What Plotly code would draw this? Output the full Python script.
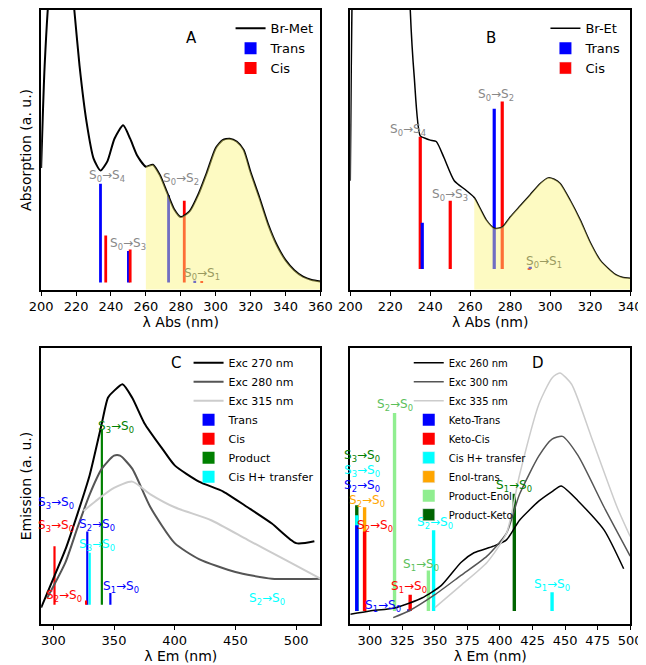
import plotly.graph_objects as go

# ---------- Panel A data ----------
a_x = [200, 202, 205, 208, 212, 216, 219, 222, 226, 230, 234, 238, 242, 247, 251, 255, 260, 264, 268, 272, 276, 280, 285, 290, 295, 300, 304, 308, 312, 316, 320, 325, 330, 335, 340, 345, 350, 355, 360]
a_y = [43.5, 80, 110, 125, 125, 118, 100, 80, 60, 47, 42.6, 46, 54, 58.8, 54, 48, 44, 44.7, 41, 35, 29, 26, 28, 34, 42, 50.6, 53.5, 54, 53, 50, 42, 33, 23.5, 16, 10.6, 7, 4.7, 3.5, 3]
a_trans_x = [234, 250, 273, 288]
a_trans_top = [37.9, 13.9, 33.8, 3.2]
a_cis_x = [237, 251, 282, 292]
a_cis_top = [19.4, 14.4, 31.8, 3.0]
a_base = 2.6

# ---------- Panel B data ----------
b_x = [200, 200.5, 201, 201.5, 229, 230, 232, 235, 238, 240, 243, 247, 252, 258, 262, 265, 268, 272, 276, 280, 285, 290, 295, 299, 302, 305, 310, 315, 320, 325, 330, 333, 336, 340]
b_y = [39, 80, 110, 130, 130, 100, 76, 55, 54, 53.5, 53, 47, 39, 35.5, 33, 29, 25, 22, 22.4, 26, 30, 34, 38, 40, 39.5, 38, 32, 25, 17, 10.6, 7, 5.3, 4.5, 4.1]
b_trans_x = [236, 272, 290]
b_trans_top = [24, 64.7, 8.2]
b_cis_x = [235, 250, 276, 289.5]
b_cis_top = [54.7, 31.8, 67.3, 7.8]
b_base = 7.4

# ---------- Panel C data ----------
c270_x = [290, 300, 310, 320, 330, 340, 345, 350, 357, 365, 375, 390, 400, 420, 440, 460, 480, 500, 515]
c270_y = [5.9, 16.4, 27, 40, 54, 72.8, 82, 84.5, 86.9, 82, 72.8, 63.4, 57.5, 51.6, 48, 42.3, 36.4, 29.3, 30]
c280_x = [295, 310, 320, 330, 340, 350, 355, 365, 380, 400, 420, 450, 480, 520]
c280_y = [9.4, 22.3, 35, 47, 56.3, 61, 61, 56.3, 42.3, 29.3, 23.5, 18.8, 16.4, 16.4]
c315_x = [325, 335, 350, 365, 380, 400, 430, 460, 490, 510, 520]
c315_y = [41, 44.6, 49.3, 51.6, 47, 42.3, 37.6, 30.5, 23.5, 18.8, 16.4]
c_trans_x = [328, 347]
c_trans_top = [33.5, 11.2]
c_cis_x = [301, 327]
c_cis_top = [28.2, 8.5]
c_prod_x = [340]
c_prod_top = [70.4]
c_cish_x = [330]
c_cish_top = [25.8]
c_base = 7.0

# ---------- Panel D data ----------
d260_x = [285, 300, 320, 340, 355, 370, 380, 395, 405, 415, 430, 440, 447, 460, 480, 495]
d260_y = [3.5, 4.7, 5.9, 9.4, 14, 22.3, 25.8, 28.2, 30.5, 37.6, 44.6, 48, 50, 44.6, 34, 20]
d300_x = [318, 330, 350, 370, 390, 405, 415, 430, 440, 448, 460, 480, 500]
d300_y = [2.3, 4.7, 10.6, 17.6, 24.6, 32.9, 47, 61, 67, 68, 61, 42.3, 24.6]
d335_x = [350, 370, 390, 405, 415, 430, 440, 446, 455, 470, 490, 500]
d335_y = [5.9, 14, 22.3, 32.9, 54, 79.8, 89.2, 91, 86.9, 68, 42.3, 31.7]
d_pketo_x = [290, 411]
d_pketo_top = [43, 47.2]
d_cish_x = [290, 349, 440]
d_cish_top = [39.4, 34, 11.5]
d_ktrans_x = [290, 330]
d_ktrans_top = [35.8, 5.3]
d_enolt_x = [296]
d_enolt_top = [42.3]
d_kcis_x = [296, 331]
d_kcis_top = [33.5, 10.6]
d_penol_x = [319, 345]
d_penol_top = [76.5, 19.4]
d_base = 4.7

FONT = "DejaVu Sans"
fig = go.Figure()

def bars(x, top, base, color, name, xa, ya, legend, width=1.6, show=True):
    fig.add_trace(go.Bar(x=x, y=[t - base for t in top], base=base, width=width,
                         marker=dict(color=color, line=dict(width=0)), name=name,
                         xaxis=xa, yaxis=ya, legend=legend, showlegend=show))

def line(x, y, color, name, xa, ya, legend, w=2, show=True):
    fig.add_trace(go.Scatter(x=x, y=y, mode="lines", line=dict(color=color, width=w, shape="spline", smoothing=0.6),
                             name=name, xaxis=xa, yaxis=ya, legend=legend, showlegend=show))

# Panel A
line(a_x, a_y, "black", "Br-Met", "x", "y", "legend")
bars(a_trans_x, a_trans_top, a_base, "#0000ff", "Trans", "x", "y", "legend")
bars(a_cis_x, a_cis_top, a_base, "#ff0000", "Cis", "x", "y", "legend")
fa = [(x, y) for x, y in zip(a_x, a_y) if x >= 260]
fig.add_trace(go.Scatter(x=[p[0] for p in fa], y=[p[1] for p in fa], mode="lines", line=dict(width=0, shape="spline", smoothing=0.6),
                         fill="tozeroy", fillcolor="rgba(250,245,120,0.45)", showlegend=False, xaxis="x", yaxis="y"))

# Panel B
line(b_x, b_y, "black", "Br-Et", "x2", "y2", "legend2", w=1.5)
bars(b_cis_x, b_cis_top, b_base, "#ff0000", "Cis", "x2", "y2", "legend2", show=False)
bars(b_trans_x, b_trans_top, b_base, "#0000ff", "Trans", "x2", "y2", "legend2")
fig.add_trace(go.Bar(x=[None], y=[None], marker=dict(color="#ff0000"), name="Cis", xaxis="x2", yaxis="y2", legend="legend2"))
fb = [(x, y) for x, y in zip(b_x, b_y) if x >= 260]
fig.add_trace(go.Scatter(x=[p[0] for p in fb], y=[p[1] for p in fb], mode="lines", line=dict(width=0, shape="spline", smoothing=0.6),
                         fill="tozeroy", fillcolor="rgba(250,245,120,0.45)", showlegend=False, xaxis="x2", yaxis="y2"))

# Panel C
line(c270_x, c270_y, "black", "Exc 270 nm", "x3", "y3", "legend3")
line(c280_x, c280_y, "#555555", "Exc 280 nm", "x3", "y3", "legend3")
line(c315_x, c315_y, "#cccccc", "Exc 315 nm", "x3", "y3", "legend3")
bars(c_trans_x, c_trans_top, c_base, "#0000ff", "Trans", "x3", "y3", "legend3", width=1.8)
bars(c_cis_x, c_cis_top, c_base, "#ff0000", "Cis", "x3", "y3", "legend3", width=1.8)
bars(c_prod_x, c_prod_top, c_base, "#008000", "Product", "x3", "y3", "legend3", width=1.8)
bars(c_cish_x, c_cish_top, c_base, "#00ffff", "Cis H+ transfer", "x3", "y3", "legend3", width=1.8)

# Panel D
line(d260_x, d260_y, "black", "Exc 260 nm", "x4", "y4", "legend4", w=1.5)
line(d300_x, d300_y, "#555555", "Exc 300 nm", "x4", "y4", "legend4", w=1.5)
line(d335_x, d335_y, "#cccccc", "Exc 335 nm", "x4", "y4", "legend4", w=1.5)
bars(d_pketo_x, d_pketo_top, d_base, "#006400", "Product-Keto", "x4", "y4", "legend4", width=2.6, show=False)
bars(d_cish_x, d_cish_top, d_base, "#00ffff", "Cis H+ transfer", "x4", "y4", "legend4", width=2.6, show=False)
bars(d_ktrans_x, d_ktrans_top, d_base, "#0000ff", "Keto-Trans", "x4", "y4", "legend4", width=2.6)
bars(d_enolt_x, d_enolt_top, d_base, "#ffa500", "Enol-trans", "x4", "y4", "legend4", width=2.6, show=False)
bars(d_kcis_x, d_kcis_top, d_base, "#ff0000", "Keto-Cis", "x4", "y4", "legend4", width=2.6)
for nm, col in [("Cis H+ transfer", "#00ffff"), ("Enol-trans", "#ffa500")]:
    fig.add_trace(go.Bar(x=[None], y=[None], marker=dict(color=col), name=nm, xaxis="x4", yaxis="y4", legend="legend4"))
bars(d_penol_x, d_penol_top, d_base, "#90ee90", "Product-Enol", "x4", "y4", "legend4", width=2.6)
fig.add_trace(go.Bar(x=[None], y=[None], marker=dict(color="#006400"), name="Product-Keto", xaxis="x4", yaxis="y4", legend="legend4"))

def ann(text, x, y, color, xref, yref, size=12):
    return dict(text=text, x=x, y=y, xref=xref, yref=yref, showarrow=False,
                font=dict(color=color, size=size, family=FONT))

def tr(a, b, arrow="→"):
    return f"S<sub>{a}</sub>{arrow}S<sub>{b}</sub>"

g = "#888888"
anns = [
    ann("A", 0.263, 0.975, "black", "paper", "paper", 15),
    ann("B", 0.768, 0.975, "black", "paper", "paper", 15),
    ann("C", 0.24, 0.468, "black", "paper", "paper", 15),
    ann("D", 0.845, 0.468, "black", "paper", "paper", 15),
    ann(tr(0, 4), 238, 40.5, g, "x", "y"),
    ann(tr(0, 3), 250, 16.5, g, "x", "y"),
    ann(tr(0, 2), 280, 39.5, g, "x", "y"),
    ann(tr(0, 1), 292, 5.5, "#9a9a60", "x", "y"),
    ann(tr(0, 4), 229, 57, g, "x2", "y2"),
    ann(tr(0, 3), 250, 34, g, "x2", "y2"),
    ann(tr(0, 2), 273, 69.5, g, "x2", "y2"),
    ann(tr(0, 1), 297, 10, "#9a9a60", "x2", "y2"),
    ann(tr(3, 0), 302, 44, "#0000ff", "x3", "y3"),
    ann(tr(3, 0), 302, 35.5, "#ff0000", "x3", "y3"),
    ann(tr(2, 0), 336, 36, "#0000ff", "x3", "y3"),
    ann(tr(3, 0), 336, 28.5, "#00ffff", "x3", "y3"),
    ann(tr(2, 0), 309, 10, "#ff0000", "x3", "y3"),
    ann(tr(3, 0), 352, 71.5, "#008000", "x3", "y3"),
    ann(tr(1, 0), 356, 13.5, "#0000ff", "x3", "y3"),
    ann(tr(2, 0), 476, 9, "#00ffff", "x3", "y3"),
    ann(tr(3, 0), 294, 61, "#008000", "x4", "y4"),
    ann(tr(3, 0), 294, 55.5, "#00ffff", "x4", "y4"),
    ann(tr(2, 0), 294, 50, "#0000ff", "x4", "y4"),
    ann(tr(2, 0), 298, 44.5, "#ffa500", "x4", "y4"),
    ann(tr(2, 0), 304, 35.5, "#ff0000", "x4", "y4"),
    ann(tr(2, 0), 319, 79.5, "#5cbf5c", "x4", "y4"),
    ann(tr(1, 0), 339, 21.5, "#5cbf5c", "x4", "y4"),
    ann(tr(1, 0), 330, 13.5, "#ff0000", "x4", "y4"),
    ann(tr(1, 0), 310, 6.5, "#0000ff", "x4", "y4"),
    ann(tr(2, 0), 350, 36.5, "#00ffff", "x4", "y4"),
    ann(tr(1, 0), 411, 50, "#008000", "x4", "y4"),
    ann(tr(1, 0), 440, 14, "#00ffff", "x4", "y4"),
]

axis_common = dict(showline=True, mirror=True, linecolor="black", linewidth=1.5, ticks="outside",
                   ticklen=4, tickcolor="black", showgrid=False, zeroline=False,
                   tickfont=dict(size=13, family=FONT, color="black"))
yax = dict(showline=True, mirror=True, linecolor="black", linewidth=1.5, showticklabels=False,
           ticks="", showgrid=False, zeroline=False, range=[0, 100], fixedrange=True,
           title=dict(font=dict(size=14, family=FONT, color="black"), standoff=4))
xtitle = dict(font=dict(size=14, family=FONT, color="black"), standoff=0)

dxA = [0.034, 0.483]
dxB = [0.531, 0.981]
dyT = [0.578, 1.0]
dyB = [0.074, 0.490]

leg = dict(bgcolor="rgba(0,0,0,0)", font=dict(size=12, family=FONT, color="black"),
           xanchor="right", yanchor="top", tracegroupgap=0, itemwidth=30)

fig.update_layout(
    width=646, height=665, margin=dict(l=0, r=0, t=0, b=0),
    paper_bgcolor="white", plot_bgcolor="white", barmode="overlay",
    font=dict(family=FONT),
    xaxis=dict(**axis_common, domain=dxA, range=[200, 360], dtick=20, anchor="y",
               title=dict(text="λ Abs (nm)", **xtitle)),
    yaxis=dict(**yax, domain=dyT, anchor="x", title_text="Absorption (a. u.)"),
    xaxis2=dict(**axis_common, domain=dxB, range=[200, 340], dtick=20, anchor="y2",
                title=dict(text="λ Abs (nm)", **xtitle)),
    yaxis2=dict(**{k: v for k, v in yax.items() if k != "title"}, domain=dyT, anchor="x2"),
    xaxis3=dict(**axis_common, domain=dxA, range=[290, 520], tickvals=[300, 350, 400, 450, 500], anchor="y3",
                title=dict(text="λ Em (nm)", **xtitle)),
    yaxis3=dict(**yax, domain=dyB, anchor="x3", title_text="Emission (a. u.)"),
    xaxis4=dict(**axis_common, domain=dxB, range=[285, 500], dtick=25, tick0=300, anchor="y4",
                title=dict(text="λ Em (nm)", **xtitle)),
    yaxis4=dict(**{k: v for k, v in yax.items() if k != "title"}, domain=dyB, anchor="x4"),
    legend=dict(**leg, x=0.48, y=0.995, font_size=13),
    legend2=dict(**leg, x=0.975, y=0.995, font_size=13),
    legend3=dict(**leg, x=0.48, y=0.49, font_size=11),
    legend4=dict(**{**leg, "xanchor": "left"}, x=0.625, y=0.49, font_size=10),
    annotations=anns,
)

fig.write_html("out.html")
